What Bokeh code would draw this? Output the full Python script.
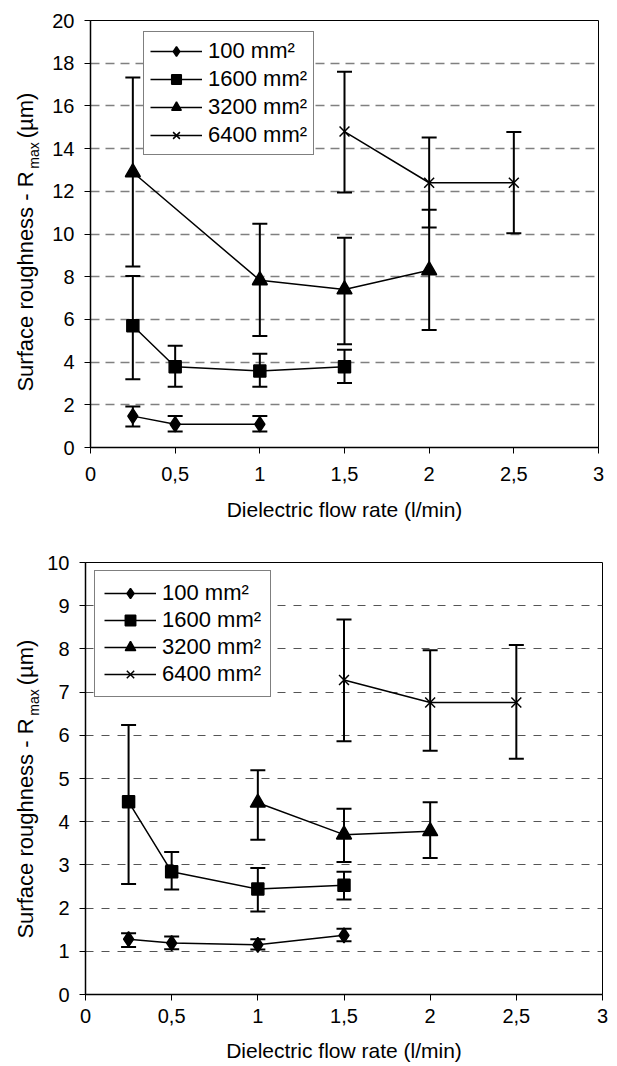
from bokeh.plotting import figure
from bokeh.layouts import column, row
from bokeh.models import (ColumnDataSource, Whisker, TeeHead, FixedTicker, Legend, LegendItem,
                          Label, CustomJSTickFormatter, Range1d)
from bokeh.embed import file_html
from bokeh.resources import INLINE

# ---------------- data ----------------
series_labels = ["100 mm²", "1600 mm²", "3200 mm²", "6400 mm²"]
x_ticks = [0, 0.5, 1, 1.5, 2, 2.5, 3]

# top chart
top_x_100 = [0.25, 0.5, 1.0]
top_y_100 = [1.47, 1.09, 1.09]
top_hi_100 = [1.92, 1.47, 1.47]
top_lo_100 = [0.98, 0.75, 0.75]

top_x_1600 = [0.25, 0.5, 1.0, 1.5]
top_y_1600 = [5.70, 3.78, 3.58, 3.78]
top_hi_1600 = [8.03, 4.77, 4.39, 4.58]
top_lo_1600 = [3.20, 2.84, 2.84, 3.02]

top_x_3200 = [0.25, 1.0, 1.5, 2.0]
top_y_3200 = [12.89, 7.83, 7.40, 8.30]
top_hi_3200 = [17.33, 10.48, 9.83, 11.13]
top_lo_3200 = [8.48, 5.22, 4.84, 5.50]

top_x_6400 = [1.5, 2.0, 2.5]
top_y_6400 = [14.80, 12.40, 12.40]
top_hi_6400 = [17.60, 14.52, 14.78]
top_lo_6400 = [11.94, 10.30, 10.03]

top_y_ticks = list(range(0, 21, 2))
top_grid = list(range(2, 19, 2))

# bottom chart
bot_x_100 = [0.25, 0.5, 1.0, 1.5]
bot_y_100 = [1.28, 1.19, 1.15, 1.37]
bot_hi_100 = [1.42, 1.34, 1.28, 1.52]
bot_lo_100 = [1.10, 1.05, 1.04, 1.23]

bot_x_1600 = [0.25, 0.5, 1.0, 1.5]
bot_y_1600 = [4.46, 2.84, 2.44, 2.53]
bot_hi_1600 = [6.24, 3.30, 2.93, 2.84]
bot_lo_1600 = [2.56, 2.43, 1.92, 2.20]

bot_x_3200 = [1.0, 1.5, 2.0]
bot_y_3200 = [4.44, 3.70, 3.78]
bot_hi_3200 = [5.19, 4.30, 4.45]
bot_lo_3200 = [3.58, 3.07, 3.16]

bot_x_6400 = [1.5, 2.0, 2.5]
bot_y_6400 = [7.28, 6.76, 6.76]
bot_hi_6400 = [8.68, 7.97, 8.09]
bot_lo_6400 = [5.86, 5.64, 5.46]

bot_y_ticks = list(range(0, 11))
bot_grid = list(range(1, 10))

FONT = "Liberation Sans"
markers = [("diamond", 15), ("square", 12), ("triangle", 15), ("x", 14)]
TITLE_W = 40


def make_title(height, start_y):
    t = figure(width=TITLE_W, height=height, output_backend="svg", toolbar_location=None,
               x_axis_type=None, y_axis_type=None, min_border=0,
               x_range=Range1d(0, 1), y_range=Range1d(0, 1))
    t.outline_line_color = None
    t.grid.visible = False
    common = dict(x_units="screen", y_units="screen", angle=90, angle_units="deg",
                  text_font=FONT, text_color="black", text_align="center",
                  text_baseline="middle")
    t.add_layout(Label(x=25, y=start_y + 110, text="Surface roughness - R",
                       text_font_size="22px", **common))
    t.add_layout(Label(x=33, y=start_y + 236, text="max", text_font_size="14px", **common))
    t.add_layout(Label(x=25, y=start_y + 276, text="(µm)", text_font_size="22px", **common))
    return t


def make_fig(series, ymax, yticks, grid, fw, fh, left, top, right, bottom,
             grid_color, grid_width, grid_dash, x_standoff, title_standoff,
             legend_loc, legend_pad, legend_h, legend_spacing):
    p = figure(frame_width=fw, frame_height=fh, output_backend="svg", toolbar_location=None,
               x_range=Range1d(0, 3), y_range=Range1d(0, ymax),
               min_border_left=left, min_border_top=top, min_border_right=right,
               min_border_bottom=bottom)
    p.outline_line_color = "black"
    p.outline_line_width = 1
    p.xgrid.visible = False
    p.ygrid.ticker = FixedTicker(ticks=grid)
    p.ygrid.grid_line_color = grid_color
    p.ygrid.grid_line_width = grid_width
    p.ygrid.grid_line_dash = grid_dash

    p.xaxis.ticker = FixedTicker(ticks=x_ticks)
    p.xaxis.formatter = CustomJSTickFormatter(code="return String(tick).replace('.', ',');")
    p.yaxis.ticker = FixedTicker(ticks=yticks)
    for ax in (p.xaxis[0], p.yaxis[0]):
        ax.axis_line_color = "black"
        ax.axis_line_width = 1.5
        ax.major_tick_line_color = "black"
        ax.major_tick_line_width = 1
        ax.major_tick_in = 0
        ax.major_tick_out = 6
        ax.minor_tick_line_color = None
        ax.major_label_text_font = FONT
        ax.major_label_text_font_size = "20px"
        ax.major_label_text_color = "black"
        ax.axis_label_text_font = FONT
        ax.axis_label_text_font_size = "21px"
        ax.axis_label_text_font_style = "normal"
        ax.axis_label_text_color = "black"
    p.xaxis.major_label_standoff = x_standoff
    p.xaxis.axis_label = "Dielectric flow rate (l/min)"
    p.xaxis.axis_label_standoff = title_standoff
    p.yaxis.major_label_standoff = 10

    items = []
    for (xs, ys, hi, lo), lab, (mk, sz) in zip(series, series_labels, markers):
        src = ColumnDataSource(dict(x=xs, y=ys, upper=hi, lower=lo))
        p.add_layout(Whisker(base="x", upper="upper", lower="lower", source=src,
                             dimension="height", line_color="black", line_width=2,
                             upper_head=TeeHead(size=15, line_width=2, line_color="black"),
                             lower_head=TeeHead(size=15, line_width=2, line_color="black")))
        lr = p.line("x", "y", source=src, line_color="black", line_width=1.5)
        mr = p.scatter("x", "y", source=src, marker=mk, size=sz,
                       fill_color="black", line_color="black", line_width=1.5)
        items.append(LegendItem(label=lab, renderers=[lr, mr]))

    leg = Legend(items=items, location=legend_loc, padding=legend_pad, spacing=legend_spacing,
                 glyph_width=52, glyph_height=legend_h, label_height=legend_h,
                 label_standoff=6, margin=0,
                 label_text_font=FONT, label_text_font_size="22px", label_text_color="black",
                 border_line_color="black", border_line_width=1,
                 background_fill_color="white", background_fill_alpha=1)
    p.add_layout(leg, "center")
    return p


top_series = [(top_x_100, top_y_100, top_hi_100, top_lo_100),
              (top_x_1600, top_y_1600, top_hi_1600, top_lo_1600),
              (top_x_3200, top_y_3200, top_hi_3200, top_lo_3200),
              (top_x_6400, top_y_6400, top_hi_6400, top_lo_6400)]
bot_series = [(bot_x_100, bot_y_100, bot_hi_100, bot_lo_100),
              (bot_x_1600, bot_y_1600, bot_hi_1600, bot_lo_1600),
              (bot_x_3200, bot_y_3200, bot_hi_3200, bot_lo_3200),
              (bot_x_6400, bot_y_6400, bot_hi_6400, bot_lo_6400)]

# top: frame 90..598 x, 20..447 y ; total height 535
p1 = make_fig(top_series, 20, top_y_ticks, top_grid, 508, 427, 50, 20, 12, 88,
              "#808080", 1.5, "9 6", 13, 14,
              (53, 292), 6, 24, 2)
t1 = make_title(535, 56)
# bottom: frame 85..602 x, 562..994 y ; total height 530
p2 = make_fig(bot_series, 10, bot_y_ticks, bot_grid, 517, 432, 45, 27, 10, 71,
              "#555555", 1.2, "8 8", 8, 13,
              (9, 297), 9, 26, 1)
t2 = make_title(530, 56)

layout = column(row(t1, p1, spacing=0), row(t2, p2, spacing=0), spacing=0)
open("out.html", "w").write(file_html(layout, INLINE))
